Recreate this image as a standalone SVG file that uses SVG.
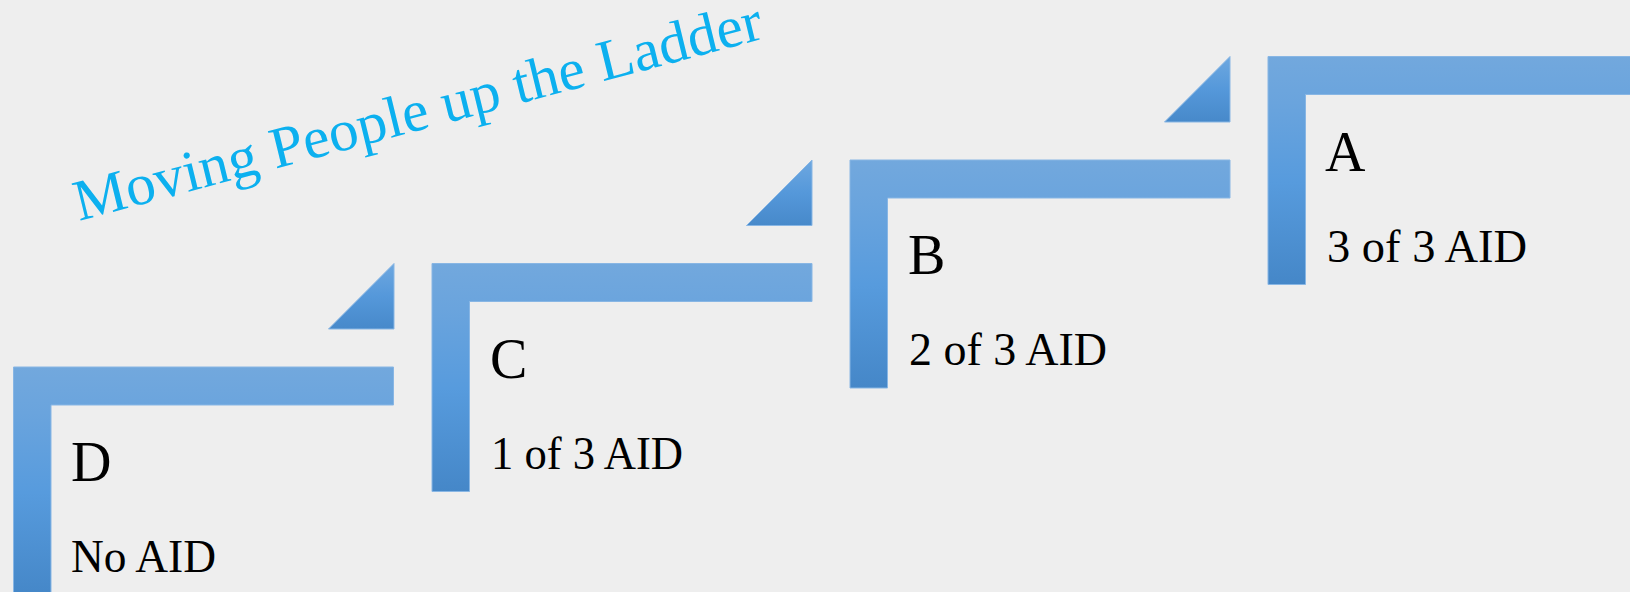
<svg xmlns="http://www.w3.org/2000/svg" width="1630" height="592" viewBox="0 0 1630 592">
<defs>
<linearGradient id="gStep" x1="0" y1="0" x2="0" y2="1">
<stop offset="0" stop-color="#72a8dd"/>
<stop offset="0.2" stop-color="#6aa4dd"/>
<stop offset="0.55" stop-color="#579bdd"/>
<stop offset="1" stop-color="#4587c8"/>
</linearGradient>
<linearGradient id="gTri" x1="0" y1="0" x2="0" y2="1">
<stop offset="0" stop-color="#6ea8e0"/>
<stop offset="0.5" stop-color="#5598da"/>
<stop offset="1" stop-color="#4789ca"/>
</linearGradient>
<path id="lshape" d="M0 0 H380 V38 H37.5 V228 H0 Z"/>
</defs>
<style>
.step{fill:url(#gStep);stroke:#88b6e4;stroke-width:1}
.tri{fill:url(#gTri);stroke:#88b6e4;stroke-width:1}
.letter{font-family:"Liberation Serif",serif;font-size:56px;fill:#000}
.label{font-family:"Liberation Serif",serif;font-size:47px;fill:#000}
.title{font-family:"Liberation Serif",serif;font-size:58px;fill:#0cb0ef}
</style>
<rect width="1630" height="592" fill="#eeeeee"/>
<g id="title">
<text class="title" transform="matrix(0.991 -0.2640 0.238 0.975 79 221)" x="0" y="0">Moving People up the Ladder</text>
</g>
<g id="connectors">
<polygon class="tri" points="328.5,329 394,263.5 394,329"/>
<polygon class="tri" points="746.5,225.5 812,160 812,225.5"/>
<polygon class="tri" points="1164.5,122 1230,56.5 1230,122"/>
</g>
<g id="stepD">
<use href="#lshape" class="step" transform="translate(13.5,367)"/>
<text class="letter" x="71" y="481">D</text>
<text class="label" x="71" y="572" textLength="145" lengthAdjust="spacingAndGlyphs">No AID</text>
</g>
<g id="stepC">
<use href="#lshape" class="step" transform="translate(432,263.5)"/>
<text class="letter" x="490" y="377.5">C</text>
<text class="label" x="491" y="468.5" textLength="192" lengthAdjust="spacingAndGlyphs">1 of 3 AID</text>
</g>
<g id="stepB">
<use href="#lshape" class="step" transform="translate(850,160)"/>
<text class="letter" x="908" y="274">B</text>
<text class="label" x="909" y="365" textLength="198" lengthAdjust="spacingAndGlyphs">2 of 3 AID</text>
</g>
<g id="stepA">
<path class="step" d="M1268 56.5 H1632 V94.5 H1305.5 V284.5 H1268 Z"/>
<text class="letter" x="1325" y="170.5">A</text>
<text class="label" x="1327" y="261.5" textLength="200" lengthAdjust="spacingAndGlyphs">3 of 3 AID</text>
</g>
</svg>
